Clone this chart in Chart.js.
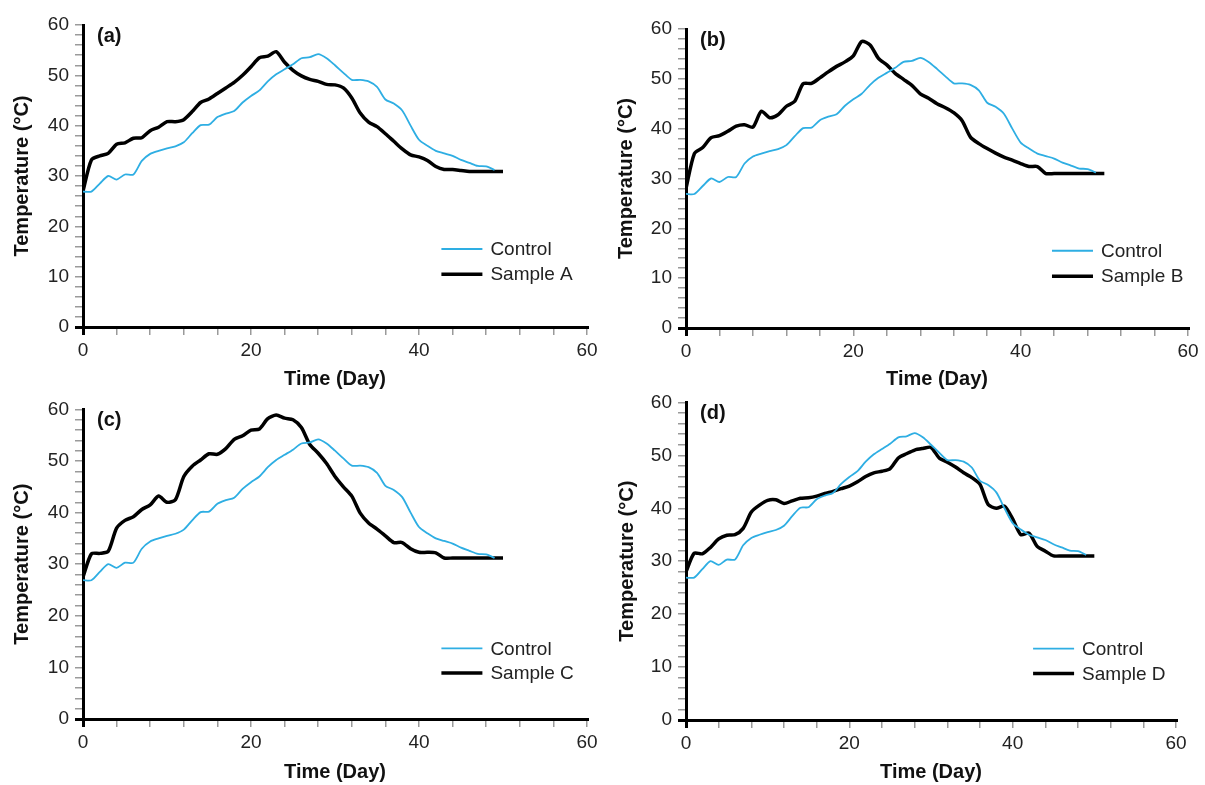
<!DOCTYPE html>
<html>
<head>
<meta charset="utf-8">
<script src="https://cdn.jsdelivr.net/npm/chart.js@4.4.1/dist/chart.umd.min.js"></script>
<style>
    body { margin: 0; background: #fff; }
    #wrap { position: relative; width: 1205px; height: 785px; overflow: hidden; }
    .panel { position: absolute; }
</style>
</head>
<body>
<div id="wrap">
    <div class="panel" style="left:0;top:0;width:602px;height:392px;"><canvas id="chartA"></canvas></div>
    <div class="panel" style="left:602px;top:0;width:603px;height:392px;"><canvas id="chartB"></canvas></div>
    <div class="panel" style="left:0;top:392px;width:602px;height:393px;"><canvas id="chartC"></canvas></div>
    <div class="panel" style="left:602px;top:385px;width:603px;height:400px;"><canvas id="chartD"></canvas></div>
</div>
<script>
// time in days
let days = [0, 1, 2, 3, 4, 5, 6, 7, 8, 9, 10, 11, 12, 13, 14, 15, 16, 17, 18, 19, 20,
    21, 22, 23, 24, 25, 26, 27, 28, 29, 30, 31, 32, 33, 34, 35, 36, 37, 38, 39, 40,
    41, 42, 43, 44, 45, 46, 47, 48, 49, 50];

// temperature (°C), control pile (days 0-49)
let controlTemp = [26.9, 26.9, 28.5, 30.0, 29.3, 30.3, 30.3, 33.0, 34.4, 35.0, 35.5,
    35.9, 36.7, 38.5, 40.1, 40.2, 41.7, 42.4, 42.9, 44.6, 45.9, 47.0, 48.8, 50.2, 51.2,
    52.2, 53.4, 53.6, 54.2, 53.4, 52.0, 50.5, 49.1, 49.1, 48.8, 47.7, 45.2, 44.4, 43.0,
    40.0, 37.2, 36.0, 35.0, 34.5, 34.0, 33.2, 32.6, 32.0, 31.9, 31.2];

let sampleATemp = [27.0, 33.2, 34.0, 34.5, 36.3, 36.6, 37.5, 37.6, 39.0, 39.7, 40.8,
    40.8, 41.2, 42.8, 44.6, 45.3, 46.4, 47.5, 48.6, 50.0, 51.7, 53.5, 53.8, 54.7, 52.6,
    51.0, 49.9, 49.2, 48.8, 48.2, 48.1, 47.5, 45.5, 42.5, 40.7, 39.8, 38.4, 36.9, 35.4,
    34.2, 33.8, 33.1, 31.9, 31.3, 31.3, 31.1, 30.9, 30.9, 30.9, 30.9, 30.9];

let sampleBTemp = [28.0, 35.0, 36.2, 38.2, 38.6, 39.5, 40.5, 40.8, 40.3, 43.5, 42.2,
    42.8, 44.5, 45.5, 49.0, 49.1, 50.2, 51.4, 52.5, 53.4, 54.6, 57.5, 56.8, 54.1, 52.8,
    51.1, 49.9, 48.7, 47.0, 46.1, 45.0, 44.2, 43.2, 41.6, 38.3, 37.0, 36.0, 35.1, 34.3,
    33.7, 33.0, 32.4, 32.4, 31.0, 31.0, 31.0, 31.0, 31.0, 31.0, 31.0, 31.0];

let sampleCTemp = [27.5, 32.0, 32.1, 32.5, 37.0, 38.5, 39.2, 40.6, 41.5, 43.2, 42.0,
    42.5, 47.0, 49.0, 50.2, 51.4, 51.3, 52.4, 54.2, 54.9, 56.0, 56.2, 58.2, 58.9, 58.3,
    58.0, 56.5, 53.2, 51.5, 49.5, 47.0, 45.0, 43.2, 39.9, 38.0, 36.8, 35.5, 34.2, 34.2,
    33.0, 32.3, 32.3, 32.2, 31.2, 31.2, 31.2, 31.2, 31.2, 31.2, 31.2, 31.2];

let sampleDTemp = [28.0, 31.5, 31.4, 32.6, 34.2, 34.9, 35.0, 36.2, 39.3, 40.6, 41.5,
    41.6, 40.9, 41.4, 41.9, 42.0, 42.3, 42.8, 43.2, 43.7, 44.2, 45.0, 46.0, 46.7, 47.0,
    47.5, 49.5, 50.3, 51.0, 51.3, 51.5, 49.5, 48.7, 47.8, 46.7, 45.8, 44.5, 40.7, 40.0,
    40.4, 38.0, 35.0, 35.3, 32.8, 31.9, 31.0, 31.0, 31.0, 31.0, 31.0, 31.0];

let panelLabels = ['(a)', '(b)', '(c)', '(d)'];
let sampleNames = ['Sample A', 'Sample B', 'Sample C', 'Sample D'];
let sampleSeries = [sampleATemp, sampleBTemp, sampleCTemp, sampleDTemp];
let xTickLabels = [0, 20, 40, 60];
let yTickLabels = [0, 10, 20, 30, 40, 50, 60];

const FONT = "'Liberation Sans', Arial, sans-serif";
const BLUE = '#2eaee3';

// per panel layout: canvas id, y axis width, x axis height, padding, legend anchor
let panels = [
    { id: 'chartA', yW: 83, xH: 65, top: 25, right: 15, yTitlePad: 10, legX: 48.5, legY: [15.5, 10.5] },
    { id: 'chartB', yW: 84, xH: 64, top: 29, right: 17, yTitlePad: 12, legX: 49.6, legY: [15.5, 10.4] },
    { id: 'chartC', yW: 83, xH: 66, top: 15, right: 15, yTitlePad: 10, legX: 48.5, legY: [13.7, 8.9] },
    { id: 'chartD', yW: 84, xH: 65, top: 16, right: 29, yTitlePad: 13, legX: 48.5, legY: [13.5, 8.8] }
];

const toPoints = (vals) => vals.map((v, i) => ({ x: days[i], y: v }));

// legend and panel letter drawn inside the plot
const overlay = {
    id: 'overlay',
    afterDraw(chart, args, opts) {
        const c = chart.ctx;
        const xs = chart.scales.x, ys = chart.scales.y;
        const area = chart.chartArea;
        c.save();
        c.fillStyle = '#111';
        c.font = 'bold 20px ' + FONT;
        c.textBaseline = 'middle';
        c.textAlign = 'left';
        c.fillText(opts.label, area.left + 14, area.top + 11);

        const tx = xs.getPixelForValue(opts.legX);
        c.font = '19px ' + FONT;
        c.fillStyle = '#222';
        const rows = [['Control', BLUE, 1.8], [opts.sample, '#000', 3.5]];
        rows.forEach((r, i) => {
            const y = ys.getPixelForValue(opts.legY[i]);
            c.strokeStyle = r[1];
            c.lineWidth = r[2];
            c.beginPath();
            c.moveTo(tx - 49, y);
            c.lineTo(tx - 8, y);
            c.stroke();
            c.fillText(r[0], tx, y + 1);
        });
        c.restore();
    }
};

const tickColor = (ctx) => ctx.tick && ctx.tick.value === 0 ? '#000' : '#9a9a9a';
const tickWidth = (ctx) => ctx.tick && ctx.tick.value === 0 ? 3 : 1.5;

drawPanel = (p, i) => {
    const ctx = document.getElementById(p.id);
    new Chart(ctx.getContext('2d'), {
        type: 'line',
        data: {
            datasets: [{
                label: 'Control',
                data: toPoints(controlTemp),
                borderColor: BLUE,
                borderWidth: 1.8,
                pointRadius: 0,
                tension: 0.25
            }, {
                label: sampleNames[i],
                data: toPoints(sampleSeries[i]),
                borderColor: '#000',
                borderWidth: 3.5,
                pointRadius: 0,
                tension: 0.25
            }]
        },
        options: {
            responsive: true,
            maintainAspectRatio: false,
            animation: false,
            layout: { padding: { top: p.top, right: p.right, left: 0, bottom: 0 } },
            plugins: {
                legend: { display: false },
                tooltip: { enabled: false },
                overlay: { label: panelLabels[i], sample: sampleNames[i], legX: p.legX, legY: p.legY }
            },
            scales: {
                x: {
                    type: 'linear',
                    min: 0,
                    max: 60,
                    border: { color: '#000', width: 3 },
                    grid: { drawOnChartArea: false, tickLength: 8, color: tickColor, lineWidth: tickWidth },
                    ticks: {
                        stepSize: 4,
                        autoSkip: false,
                        maxRotation: 0,
                        padding: 4,
                        color: '#222',
                        font: { family: FONT, size: 19 },
                        callback: (v) => xTickLabels.includes(v) ? v : ''
                    },
                    title: {
                        display: true,
                        text: 'Time (Day)',
                        color: '#111',
                        padding: { top: 0, bottom: 1 },
                        font: { family: FONT, size: 20, weight: 'bold' }
                    },
                    afterFit: (s) => { s.height = p.xH; }
                },
                y: {
                    min: 0,
                    max: 60,
                    border: { color: '#000', width: 3 },
                    grid: { drawOnChartArea: false, tickLength: 8, color: tickColor, lineWidth: tickWidth },
                    ticks: {
                        stepSize: 2,
                        autoSkip: false,
                        padding: 6,
                        color: '#222',
                        font: { family: FONT, size: 19 },
                        callback: (v) => yTickLabels.includes(v) ? v : ''
                    },
                    title: {
                        display: true,
                        text: 'Temperature (°C)',
                        color: '#111',
                        padding: { top: p.yTitlePad, bottom: 0 },
                        font: { family: FONT, size: 20, weight: 'bold' }
                    },
                    afterFit: (s) => { s.width = p.yW; }
                }
            }
        },
        plugins: [overlay]
    });
}

panels.forEach((p, i) => drawPanel(p, i));
</script>
</body>
</html>
